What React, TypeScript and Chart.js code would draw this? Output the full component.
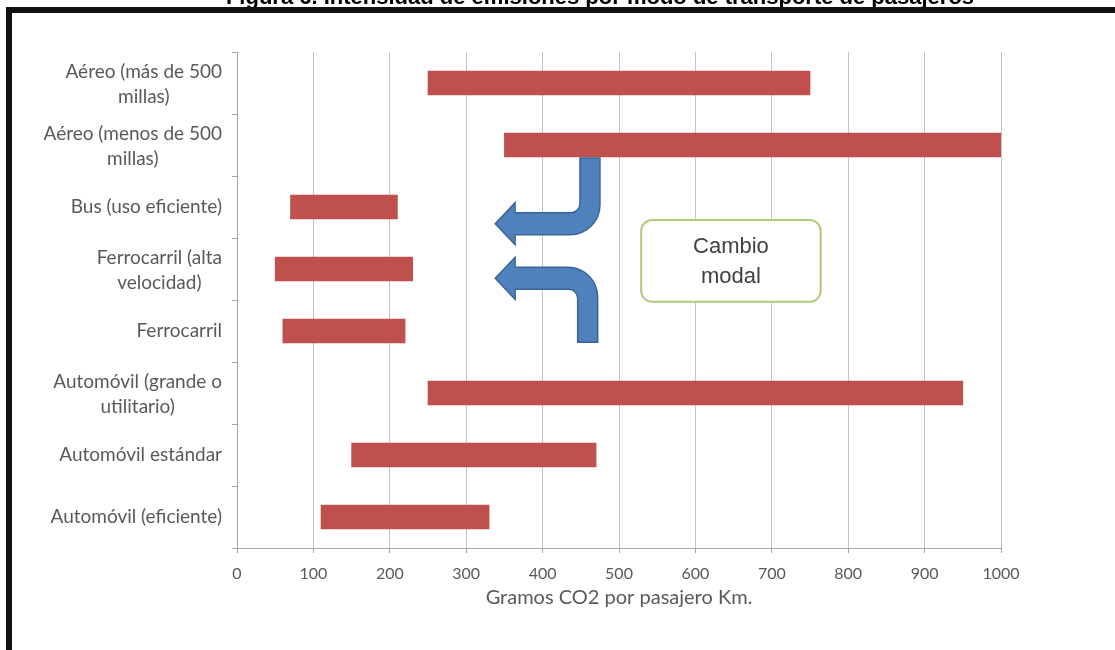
import React, { useEffect, useRef } from "react";
import { Chart, registerables } from "chart.js";

Chart.register(...registerables);

const chartTitle = "Figura 6. Intensidad de emisiones por modo de transporte de pasajeros";
const categories: string[][] = [
  ["Aéreo (más de 500", "millas)"],
  ["Aéreo (menos de 500", "millas)"],
  ["Bus (uso eficiente)"],
  ["Ferrocarril (alta", "velocidad)"],
  ["Ferrocarril"],
  ["Automóvil (grande o", "utilitario)"],
  ["Automóvil estándar"],
  ["Automóvil (eficiente)"],
];
const minValues = [250, 350, 70, 50, 60, 250, 150, 110];
const maxValues = [750, 1000, 210, 230, 220, 950, 470, 330];
const xMin = 0;
const xMax = 1000;
const xStep = 100;
const xAxisTitle = "Gramos CO2 por pasajero Km.";
const noteLines = ["Cambio", "modal"];

const LABEL_FONT = "Lato";

function drawBentArrow(
  ctx: CanvasRenderingContext2D,
  sx: number, stemEnd: number, cy: number, tip: number, headBack: number,
  flip: number
) {
  const w = 10, t = 11, hh = 21, R = 30, r = 9;
  const L = Math.abs(cy - stemEnd);
  ctx.save();
  ctx.translate(0, cy);
  ctx.scale(1, flip);
  ctx.beginPath();
  ctx.moveTo(sx - w, -L);
  ctx.lineTo(sx + w, -L);
  ctx.lineTo(sx + w, t - R);
  ctx.arcTo(sx + w, t, sx + w - R, t, R);
  ctx.lineTo(headBack, t);
  ctx.lineTo(headBack, hh);
  ctx.lineTo(tip, 0);
  ctx.lineTo(headBack, -hh);
  ctx.lineTo(headBack, -t);
  ctx.lineTo(sx - w - r, -t);
  ctx.arcTo(sx - w, -t, sx - w, -t - r, r);
  ctx.closePath();
  ctx.fillStyle = "#4f81bd";
  ctx.fill();
  ctx.lineWidth = 1.5;
  ctx.strokeStyle = "#3a6497";
  ctx.stroke();
  ctx.restore();
}

const framePlugin = {
  id: "frame",
  beforeDraw(chart: any) {
    const ctx = chart.ctx as CanvasRenderingContext2D;
    ctx.save();
    ctx.fillStyle = "#ffffff";
    ctx.fillRect(0, 0, chart.width, chart.height);
    ctx.fillStyle = "#000000";
    ctx.font = 'bold 22px "Liberation Sans", Arial, sans-serif';
    ctx.textAlign = "center";
    ctx.textBaseline = "alphabetic";
    ctx.fillText(chartTitle, 600, 4);
    ctx.fillStyle = "#111111";
    ctx.fillRect(6, 7, chart.width - 6, 6);
    ctx.fillRect(6, 7, 6, chart.height - 7);
    ctx.restore();
  },
};

const labelsPlugin = {
  id: "yLabels",
  afterDraw(chart: any) {
    const ctx = chart.ctx as CanvasRenderingContext2D;
    const ys = chart.scales.y;
    ctx.save();
    ctx.font = `19px ${LABEL_FONT}`;
    ctx.fillStyle = "#595959";
    ctx.textAlign = "center";
    ctx.textBaseline = "middle";
    const rightEdge = ys.right - 15;
    const lh = 25;
    categories.forEach((lines, i) => {
      const cy = ys.getPixelForValue(i) + (lines.length > 1 ? 1 : 0);
      const widest = Math.max(...lines.map((l) => ctx.measureText(l).width));
      const cx = rightEdge - widest / 2;
      lines.forEach((line, j) => {
        ctx.fillText(line, cx, cy + (j - (lines.length - 1) / 2) * lh);
      });
    });
    ctx.restore();
  },
};

const annotationPlugin = {
  id: "modalShift",
  afterDatasetsDraw(chart: any) {
    const ctx = chart.ctx as CanvasRenderingContext2D;
    const xs = chart.scales.x;
    const ys = chart.scales.y;
    drawBentArrow(ctx, xs.getPixelForValue(462), ys.getPixelForValue(1.21), ys.getPixelForValue(2.27),
      xs.getPixelForValue(338), xs.getPixelForValue(364), 1);
    drawBentArrow(ctx, xs.getPixelForValue(459), ys.getPixelForValue(4.18), ys.getPixelForValue(3.15),
      xs.getPixelForValue(338), xs.getPixelForValue(364), -1);
    const x0 = xs.getPixelForValue(529), x1 = xs.getPixelForValue(764);
    const y0 = ys.getPixelForValue(2.21), y1 = ys.getPixelForValue(3.53);
    ctx.save();
    ctx.beginPath();
    ctx.roundRect(x0, y0, x1 - x0, y1 - y0, 11);
    ctx.fillStyle = "#ffffff";
    ctx.fill();
    ctx.lineWidth = 2;
    ctx.strokeStyle = "#b0ca7c";
    ctx.stroke();
    ctx.fillStyle = "#404040";
    ctx.font = '22px "Liberation Sans", Arial, sans-serif';
    ctx.textAlign = "center";
    ctx.textBaseline = "middle";
    const cx = (x0 + x1) / 2;
    ctx.fillText(noteLines[0], cx, ys.getPixelForValue(2.65));
    ctx.fillText(noteLines[1], cx, ys.getPixelForValue(3.13));
    ctx.restore();
  },
};

export default function App() {
  const ref = useRef<HTMLCanvasElement | null>(null);
  useEffect(() => {
    if (!ref.current) return;
    const chart = new Chart(ref.current, {
      type: "bar",
      data: {
        labels: categories.map((c) => c.join(" ")),
        datasets: [
          {
            data: minValues.map((v, i) => [v, maxValues[i]]) as any,
            backgroundColor: "#c0504d",
            borderWidth: 0,
            barThickness: 24,
          },
        ],
      },
      options: {
        animation: false,
        responsive: false,
        indexAxis: "y",
        layout: { padding: { top: 52, right: 114, bottom: 32, left: 0 } },
        plugins: { legend: { display: false }, tooltip: { enabled: false }, title: { display: false } },
        scales: {
          x: {
            type: "linear",
            min: xMin,
            max: xMax,
            ticks: {
              stepSize: xStep,
              color: "#595959",
              font: { family: LABEL_FONT, size: 16 },
              padding: 11,
              callback: (v: any) => String(v),
            },
            grid: { color: "#c4c4c4", tickColor: "#a6a6a6", tickLength: 5, drawTicks: true },
            border: { color: "#a6a6a6" },
            title: {
              display: true,
              text: xAxisTitle,
              color: "#595959",
              font: { family: LABEL_FONT, size: 20 },
              padding: { top: 0, bottom: 8 },
            },
            afterFit: (s: any) => { s.height = 70; },
          },
          y: {
            type: "category",
            offset: true,
            ticks: { display: false },
            grid: { offset: true, drawOnChartArea: false, drawTicks: true, tickLength: 5, color: "#a6a6a6" },
            border: { color: "#a6a6a6" },
            afterFit: (s: any) => { s.width = 237; },
          },
        },
      } as any,
      plugins: [framePlugin, annotationPlugin, labelsPlugin],
    });
    return () => chart.destroy();
  }, []);
  return (
    <div style={{ position: "absolute", left: 0, top: 0, width: 1115, height: 650 }}>
      <canvas ref={ref} width={1115} height={650} style={{ width: 1115, height: 650, display: "block" }} />
    </div>
  );
}
